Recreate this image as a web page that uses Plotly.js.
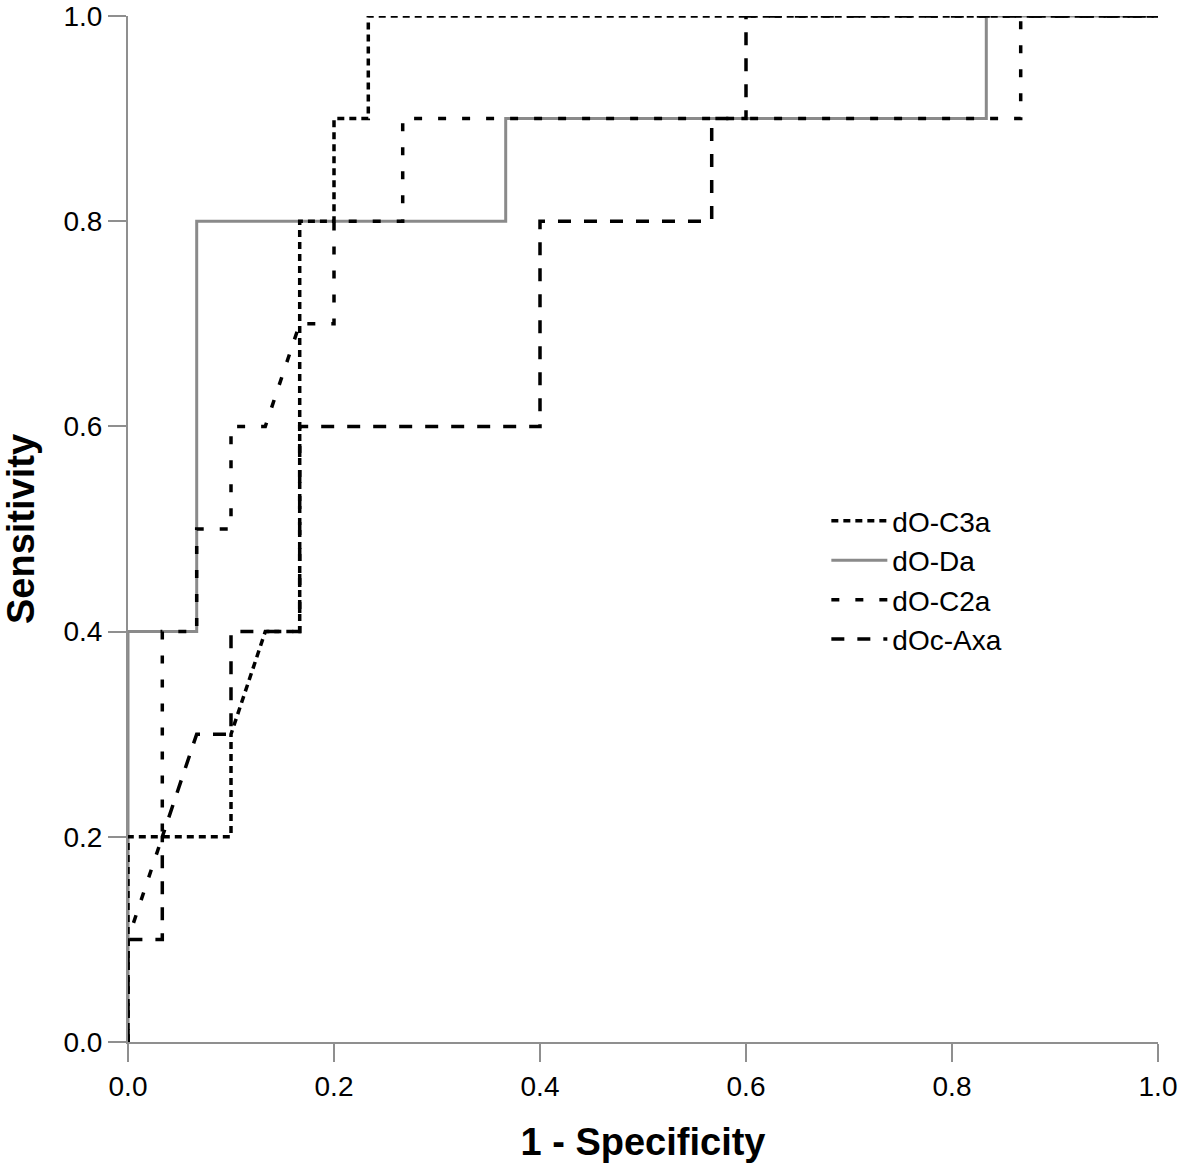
<!DOCTYPE html>
<html>
<head>
<meta charset="utf-8">
<script src="https://cdn.plot.ly/plotly-3.0.1.min.js"></script>
<style>html,body{margin:0;padding:0;background:#fff;}#chart{width:1180px;height:1171px;}</style>
</head>
<body>
<div id="chart"></div>
<script>
// ROC curves (1 - Specificity vs Sensitivity)
const seriesNames = ["dO-C3a", "dO-Da", "dO-C2a", "dOc-Axa"];

const c3aX = [0, 0, 0.1, 0.1, 0.1333, 0.1667, 0.1667, 0.2, 0.2, 0.2333, 0.2333, 1];
const c3aY = [0, 0.2, 0.2, 0.3, 0.4, 0.4, 0.8, 0.8, 0.9, 0.9, 1, 1];

const daX = [0, 0, 0.0667, 0.0667, 0.3667, 0.3667, 0.8333, 0.8333, 1];
const daY = [0, 0.4, 0.4, 0.8, 0.8, 0.9, 0.9, 1, 1];

const c2aX = [0, 0, 0.0333, 0.0333, 0.0667, 0.0667, 0.1, 0.1, 0.1333, 0.1667, 0.2, 0.2, 0.2667, 0.2667, 0.8667, 0.8667, 1];
const c2aY = [0, 0.1, 0.2, 0.4, 0.4, 0.5, 0.5, 0.6, 0.6, 0.7, 0.7, 0.8, 0.8, 0.9, 0.9, 1, 1];

const axaX = [0, 0, 0.0333, 0.0333, 0.0667, 0.1, 0.1, 0.1667, 0.1667, 0.4, 0.4, 0.5667, 0.5667, 0.6, 0.6, 1];
const axaY = [0, 0.1, 0.1, 0.2, 0.3, 0.3, 0.4, 0.4, 0.6, 0.6, 0.8, 0.8, 0.9, 0.9, 1, 1];

const tickVals = [0, 0.2, 0.4, 0.6, 0.8, 1.0];
const tickText = ["0.0", "0.2", "0.4", "0.6", "0.8", "1.0"];

const FONT = "Arial, 'Liberation Sans', sans-serif";
const AXISGRAY = "#8f8f8f";

const traces = [
  {x: daX, y: daY, name: seriesNames[1], legendrank: 2, mode: "lines", cliponaxis: false,
   line: {color: "#8a8a8a", width: 3}},
  {x: axaX, y: axaY, name: seriesNames[3], legendrank: 4, mode: "lines", cliponaxis: false,
   line: {color: "#000", width: 3.5, dash: "13px,13px"}},
  {x: c2aX, y: c2aY, name: seriesNames[2], legendrank: 3, mode: "lines", cliponaxis: false,
   line: {color: "#000", width: 3.5, dash: "8px,16px"}},
  {x: c3aX, y: c3aY, name: seriesNames[0], legendrank: 1, mode: "lines", cliponaxis: false,
   line: {color: "#000", width: 3.5, dash: "7px,5px"}}
];

const layout = {
  width: 1180, height: 1171,
  margin: {l: 128, r: 22, t: 16, b: 129},
  paper_bgcolor: "#fff", plot_bgcolor: "#fff",
  font: {family: FONT, color: "#000", size: 28},
  showlegend: true,
  legend: {
    x: 0.678, y: 0.532, xanchor: "left", yanchor: "top",
    traceorder: "normal",
    font: {family: FONT, size: 28, color: "#000"},
    itemwidth: 56, bgcolor: "rgba(0,0,0,0)", borderwidth: 0,
    tracegroupgap: 0
  },
  xaxis: {
    range: [0, 1], tickvals: tickVals, ticktext: tickText,
    showgrid: false, zeroline: false, showline: true,
    linecolor: AXISGRAY, linewidth: 2,
    ticks: "outside", ticklen: 18, tickwidth: 2, tickcolor: AXISGRAY,
    ticklabeloverflow: "allow",
    tickfont: {family: FONT, size: 28, color: "#000"},
    title: {text: "1 - Specificity", font: {family: FONT, size: 38, color: "#000", weight: "bold"}, standoff: 28},
    automargin: false, fixedrange: true
  },
  yaxis: {
    range: [0, 1], tickvals: tickVals, ticktext: tickText,
    showgrid: false, zeroline: false, showline: true,
    linecolor: AXISGRAY, linewidth: 2,
    ticks: "outside", ticklen: 18, tickwidth: 2, tickcolor: AXISGRAY,
    ticklabeloverflow: "allow",
    tickfont: {family: FONT, size: 28, color: "#000"},
    title: {text: "Sensitivity", font: {family: FONT, size: 38, color: "#000", weight: "bold"}, standoff: 22},
    automargin: false, fixedrange: true
  }
};

Plotly.newPlot("chart", traces, layout, {displayModeBar: false, staticPlot: true});
</script>
</body>
</html>
